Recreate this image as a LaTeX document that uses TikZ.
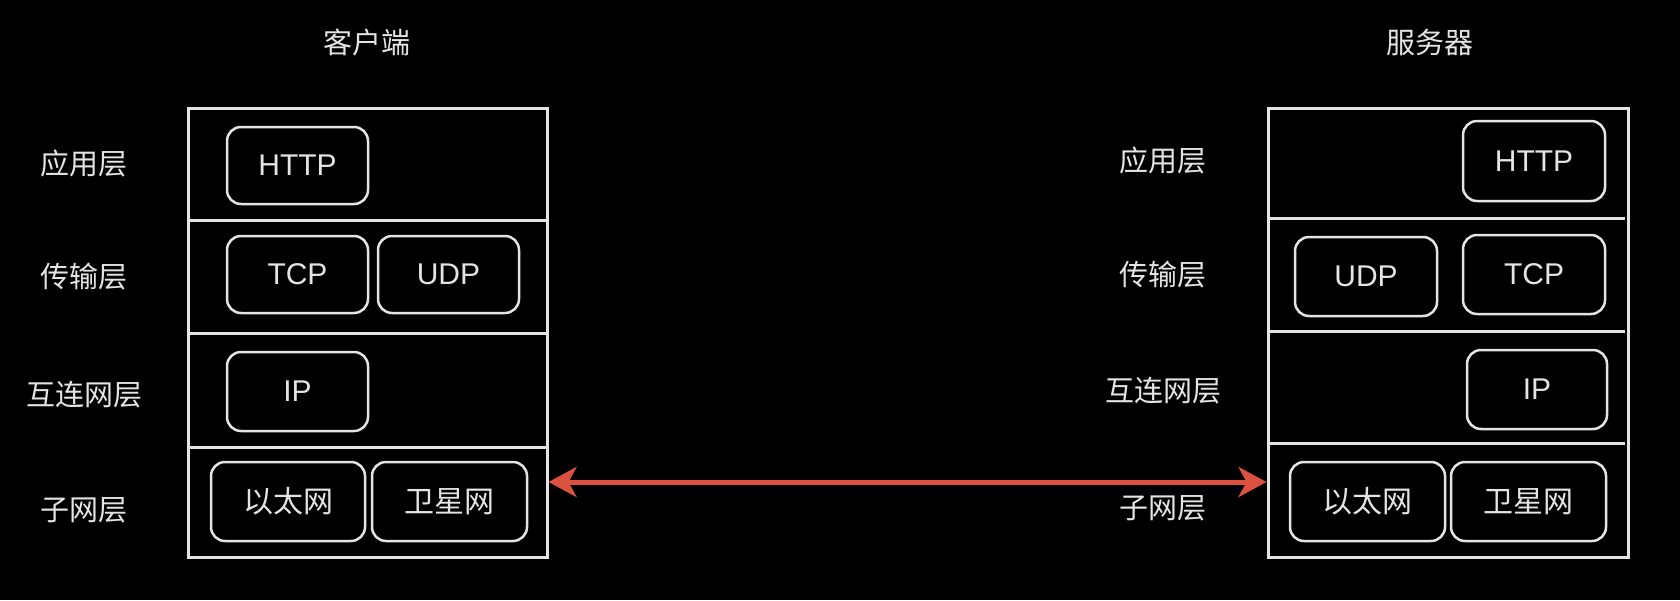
\documentclass[tikz,border=0pt]{standalone}
\usepackage{fontspec}
\setmainfont{Liberation Sans}
\newfontfamily\cjk{Noto Sans CJK SC}
\usetikzlibrary{arrows.meta}
\definecolor{fg}{RGB}{228,228,228}
\definecolor{arr}{RGB}{219,80,62}
\begin{document}
\begin{tikzpicture}[x=1pt,y=-1pt,
  proto/.style={draw=fg, line width=2.5pt, rounded corners=14pt, text=fg, font=\fontsize{30}{36}\selectfont, inner sep=0pt},
  cnproto/.style={proto, font=\cjk\fontsize{30}{36}\selectfont},
  lbl/.style={text=fg, font=\cjk\fontsize{29}{34}\selectfont, inner sep=0pt},
  stackbox/.style={draw=fg, line width=3pt, inner sep=0pt},
  divider/.style={draw=fg, line width=3pt},
  link/.style={draw=arr, line width=5pt, {Stealth[length=28pt,width=30pt,inset=8pt]}-{Stealth[length=28pt,width=30pt,inset=8pt]}}]
\fill[black] (0,0) rectangle (1680,600);
\useasboundingbox (0,0) rectangle (1680,600);

% titles
\node[lbl] (tclient) at (367,42) {客户端};
\node[lbl] (tserver) at (1430,42) {服务器};

% left stack
\node[stackbox, minimum width=359pt, minimum height=449pt] (lstack) at (367.5,332.5) {};
\draw[divider] (lstack.west |- 0,220) -- (lstack.east |- 0,220);
\draw[divider] (lstack.west |- 0,333) -- (lstack.east |- 0,333);
\draw[divider] (lstack.west |- 0,447) -- (lstack.east |- 0,447);

\node[lbl] (lapp) at (84,163) {应用层};
\node[lbl] (ltrans) at (84,277) {传输层};
\node[lbl] (lnet) at (84,395) {互连网层};
\node[lbl] (lsub) at (84,510) {子网层};

\node[proto, minimum width=141pt, minimum height=77pt] (lhttp) at (297.5,165.5) {HTTP};
\node[proto, minimum width=141pt, minimum height=77pt] (ltcp) at (297.5,274.5) {TCP};
\node[proto, minimum width=141pt, minimum height=77pt] (ludp) at (448.5,274.5) {UDP};
\node[proto, minimum width=141pt, minimum height=79pt] (lip) at (297.5,391.5) {IP};
\node[cnproto, minimum width=154pt, minimum height=79pt] (leth) at (288,501.5) {以太网};
\node[cnproto, minimum width=155pt, minimum height=79pt] (lsat) at (449.5,501.5) {卫星网};

% right stack
\node[stackbox, minimum width=360pt, minimum height=449pt] (rstack) at (1448,332.5) {};
\draw[divider] (rstack.west |- 0,218) -- ([xshift=-5pt]rstack.east |- 0,218);
\draw[divider] (rstack.west |- 0,331) -- ([xshift=-5pt]rstack.east |- 0,331);
\draw[divider] (rstack.west |- 0,443) -- ([xshift=-5pt]rstack.east |- 0,443);

\node[lbl] (rapp) at (1163,160) {应用层};
\node[lbl] (rtrans) at (1163,275) {传输层};
\node[lbl] (rnet) at (1163,391) {互连网层};
\node[lbl] (rsub) at (1163,508) {子网层};

\node[proto, minimum width=142pt, minimum height=80pt] (rhttp) at (1534,161) {HTTP};
\node[proto, minimum width=142pt, minimum height=79pt] (rudp) at (1366,276.5) {UDP};
\node[proto, minimum width=142pt, minimum height=79pt] (rtcp) at (1534,274.5) {TCP};
\node[proto, minimum width=140pt, minimum height=79pt] (rip) at (1537,389.5) {IP};
\node[cnproto, minimum width=155pt, minimum height=79pt] (reth) at (1367.5,501.5) {以太网};
\node[cnproto, minimum width=155pt, minimum height=79pt] (rsat) at (1528.5,501.5) {卫星网};

% link
\coordinate (la) at (lstack.east |- 0,482);
\coordinate (ra) at (rstack.west |- 0,482);
\draw[link] (la) -- (ra);
\end{tikzpicture}
\end{document}
